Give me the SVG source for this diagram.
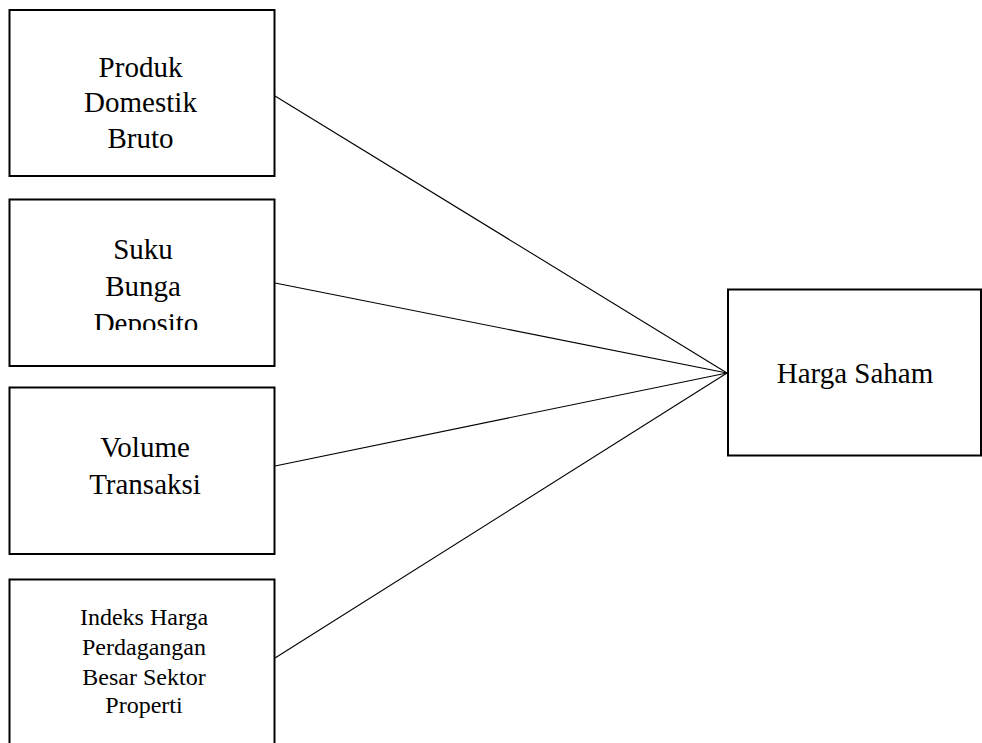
<svg xmlns="http://www.w3.org/2000/svg" width="982" height="743" viewBox="0 0 982 743">
<defs>
<style>
.box{fill:#fff;stroke:#000;stroke-width:2}
.t{font-family:"Liberation Serif","Times New Roman",serif;font-size:29px;fill:#000;text-anchor:middle}
.s{font-size:24px}
.c{stroke:#000;stroke-width:1.1;fill:none}
</style>
<clipPath id="clip2"><rect x="0" y="199" width="290" height="131"/></clipPath>
</defs>
<rect width="982" height="743" fill="#fff"/>
<g id="connectors">
<line class="c" x1="275" y1="96" x2="727" y2="373"/>
<line class="c" x1="275" y1="283" x2="727" y2="373"/>
<line class="c" x1="275" y1="466" x2="727" y2="373"/>
<line class="c" x1="275" y1="658" x2="727" y2="373"/>
</g>
<g id="node-pdb">
<rect class="box" x="9.5" y="10" width="265" height="166"/>
<text class="t" x="140.5" y="77">Produk</text>
<text class="t" x="140.5" y="112">Domestik</text>
<text class="t" x="140.5" y="148">Bruto</text>
</g>
<g id="node-suku">
<rect class="box" x="9.5" y="199.5" width="265" height="166.5"/>
<g clip-path="url(#clip2)">
<text class="t" x="143" y="259">Suku</text>
<text class="t" x="143" y="296">Bunga</text>
<text class="t" x="146" y="333">Deposito</text>
</g>
</g>
<g id="node-volume">
<rect class="box" x="9.5" y="387.5" width="265" height="166.5"/>
<text class="t" x="145" y="457">Volume</text>
<text class="t" x="145" y="494">Transaksi</text>
</g>
<g id="node-ihpb">
<rect class="box" x="9.5" y="579.5" width="265" height="200"/>
<text class="t s" x="144" y="625">Indeks Harga</text>
<text class="t s" x="144" y="655">Perdagangan</text>
<text class="t s" x="144" y="685">Besar Sektor</text>
<text class="t s" x="144" y="713">Properti</text>
</g>
<g id="node-harga">
<rect class="box" x="728" y="289.5" width="253" height="166"/>
<text class="t" x="855" y="383">Harga Saham</text>
</g>
</svg>
